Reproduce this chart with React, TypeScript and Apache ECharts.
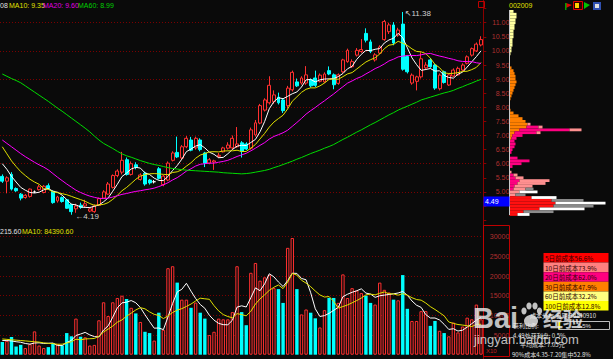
import React, { useEffect, useRef } from "react";
import * as echarts from "echarts";

// ---------- price data (O, C, H, L) ----------
const opens = [
  5.55, 5.38, 5.62, 5.12, 4.92, 4.8, 4.84, 5.0, 5.08, 4.98,
  5.22, 5.02, 4.68, 4.8, 4.72, 4.55, 4.4, 4.53, 4.5, 4.32,
  4.3, 4.52, 4.78, 4.92, 5.16, 5.58, 5.7, 6.14, 5.62, 5.96,
  5.44, 5.66, 5.42, 5.36, 5.82, 5.26, 5.42, 6.12, 6.4, 6.2,
  6.6, 6.84, 6.56, 6.84, 6.38, 6.02, 6.06, 6.26, 6.42, 6.55,
  6.56, 6.6, 6.74, 6.7, 6.55, 7.02, 7.44, 7.9, 8.16, 8.2,
  8.36, 8.26, 8.06, 8.62, 8.9, 8.86, 8.86, 8.98, 9.04, 8.92,
  8.9, 9.3, 9.15, 8.85, 9.26, 9.62, 9.44, 9.85, 9.98, 10.62,
  10.32, 9.68, 9.92, 10.4, 10.68, 10.92, 10.56, 10.95, 9.8, 8.86,
  8.92, 9.08, 9.4, 9.68, 9.5, 8.66, 9.26, 8.79, 9.11, 9.15,
  9.32, 9.56, 9.85, 10.0, 10.21,
];
const closes = [
  5.38, 5.5, 5.1, 5.04, 4.78, 4.88, 5.1, 5.0, 5.18, 5.2,
  5.12, 4.62, 4.82, 4.66, 4.42, 4.3, 4.5, 4.45, 4.58, 4.4,
  4.5, 4.76, 5.0, 5.28, 5.58, 5.74, 6.12, 5.62, 6.0, 5.88,
  5.6, 5.28, 5.32, 5.36, 5.48, 5.56, 6.02, 6.38, 6.24, 6.6,
  6.9, 6.48, 6.9, 6.5, 6.02, 6.14, 6.1, 6.3, 6.56, 6.66,
  6.9, 6.7, 6.44, 6.52, 7.2, 7.45, 8.06, 8.26, 8.78, 8.44,
  8.16, 7.88, 8.68, 9.24, 8.76, 9.04, 9.15, 8.76, 8.78, 9.14,
  9.18, 9.18, 8.8, 9.15, 9.68, 10.02, 9.62, 10.02, 10.05, 10.38,
  9.98, 9.86, 10.14, 11.04, 10.92, 10.28, 10.74, 9.35, 9.26, 9.14,
  9.08, 9.72, 9.5, 9.44, 8.68, 9.14, 8.88, 9.15, 9.32, 9.38,
  9.5, 9.79, 10.08, 10.24, 10.4,
];
const highs = [
  5.62, 5.55, 5.7, 5.16, 4.96, 4.92, 5.12, 5.05, 5.25, 5.24,
  5.3, 5.05, 4.86, 4.84, 4.75, 4.58, 4.58, 4.62, 4.72, 4.46,
  4.56, 4.8, 5.06, 5.35, 5.62, 5.8, 6.42, 6.22, 6.08, 6.05,
  5.66, 5.72, 5.46, 5.42, 5.88, 5.6, 6.08, 6.44, 6.96, 6.66,
  6.98, 6.95, 6.96, 6.9, 6.42, 6.2, 6.14, 6.38, 6.6, 6.76,
  7.0, 7.3, 6.8, 6.76, 7.28, 7.55, 8.12, 8.32, 9.1, 8.6,
  8.52, 8.3, 8.76, 9.3, 9.02, 9.1, 9.46, 9.02, 9.3, 9.2,
  9.24, 9.45, 9.2, 9.2, 9.72, 10.08, 9.7, 10.1, 10.42, 10.8,
  10.4, 9.92, 10.2, 11.1, 11.0, 11.02, 10.82, 11.38, 9.85, 9.2,
  9.12, 9.95, 9.6, 9.75, 9.55, 9.2, 9.3, 9.2, 9.38, 9.44,
  9.56, 9.84, 10.12, 10.3, 10.52,
];
const lows = [
  5.32, 4.95, 5.05, 5.0, 4.7, 4.76, 4.8, 4.96, 5.05, 4.95,
  5.08, 4.58, 4.62, 4.62, 4.4, 4.19, 4.26, 4.4, 4.45, 4.28,
  4.26, 4.5, 4.76, 4.9, 5.12, 5.52, 5.62, 5.58, 5.58, 5.8,
  5.4, 5.22, 5.26, 5.3, 5.44, 5.2, 5.38, 6.08, 6.2, 6.15,
  6.55, 6.44, 6.5, 6.44, 5.88, 5.98, 5.78, 6.2, 6.4, 6.5,
  6.5, 6.56, 6.22, 6.48, 6.5, 6.96, 7.4, 7.85, 8.1, 8.12,
  8.1, 7.8, 7.96, 8.56, 8.72, 8.8, 8.8, 8.7, 8.72, 8.88,
  8.86, 9.14, 8.64, 8.8, 9.22, 9.58, 9.4, 9.8, 9.93, 10.3,
  9.92, 9.62, 9.88, 10.36, 10.6, 10.2, 10.5, 9.3, 9.2, 8.8,
  8.6, 9.02, 9.32, 9.4, 8.62, 8.6, 8.84, 8.76, 9.08, 9.12,
  9.28, 9.52, 9.8, 9.96, 10.16,
];
const volumes = [
  3250, 3500, 4500, 2080, 2500, 1680, 2680, 5930, 2330, 1680,
  1930, 2930, 2750, 2330, 5500, 4680, 9180, 4580, 4430, 2330,
  2500, 8750, 13330, 9830, 13330, 14430, 15000, 14180, 11930, 10500,
  8330, 5830, 5500, 3580, 10680, 6330, 22000, 22500, 18330, 14000,
  14000, 11930, 13250, 10680, 9180, 5000, 5830, 9180, 9000, 9000,
  10830, 22500, 10830, 7500, 20830, 23330, 18830, 19680, 20250, 16930,
  16680, 13170, 27170, 29670, 16680, 10250, 11500, 10680, 9250, 6930,
  11330, 14430, 14430, 13180, 20420, 14420, 16920, 16330, 15670, 15000,
  13170, 12750, 18330, 16500, 15830, 14000, 13830, 20250, 11670, 8580,
  8580, 11080, 11080, 7330, 8580, 6080, 5500, 4670, 8170, 5670,
  7170, 9420, 9000, 12750, 9000,
];

const ma5Lead = [6.0, 5.8, 5.55, 5.35];
const ma10Lead = [6.6, 6.35, 6.1, 5.9, 5.72, 5.58, 5.45, 5.35, 5.27];
const ma20Lead = [6.84, 6.72, 6.6, 6.48, 6.36, 6.25, 6.15, 6.05, 5.96, 5.88, 5.78, 5.65, 5.52, 5.4, 5.28, 5.17, 5.06, 4.98, 4.91];
const ma60 = [
  9.18, 9.1, 9.02, 8.95, 8.87, 8.76, 8.65, 8.54, 8.43, 8.32,
  8.21, 8.09, 7.97, 7.86, 7.74, 7.62, 7.5, 7.38, 7.26, 7.13,
  6.98, 6.84, 6.72, 6.63, 6.54, 6.44, 6.35, 6.28, 6.23, 6.17,
  6.11, 6.06, 6.01, 5.97, 5.94, 5.9, 5.86, 5.83, 5.81, 5.79,
  5.77, 5.76, 5.75, 5.74, 5.73, 5.72, 5.71, 5.7, 5.68, 5.67,
  5.66, 5.65, 5.64, 5.65, 5.67, 5.7, 5.73, 5.76, 5.8, 5.86,
  5.91, 5.97, 6.03, 6.09, 6.16, 6.22, 6.29, 6.36, 6.42, 6.48,
  6.55, 6.61, 6.68, 6.77, 6.86, 6.94, 7.03, 7.12, 7.2, 7.29,
  7.38, 7.46, 7.55, 7.64, 7.73, 7.81, 7.9, 7.97, 8.04, 8.11,
  8.18, 8.26, 8.31, 8.36, 8.41, 8.46, 8.51, 8.55, 8.6, 8.67,
  8.73, 8.8, 8.86, 8.93, 8.99,
];
const volMa5Lead = [3600, 3600, 3500, 3300];
const volMa10Lead = [4000, 3900, 3800, 3700, 3600, 3500, 3400, 3300, 3200];

// ---------- chip distribution (levels 11.4 down to 4.2, step 0.1) ----------
const chipTop = 11.4;
const chipStep = 0.1;
const chipA = [
  4, 7, 7, 6, 6, 5, 5, 4, 4, 4, 3, 3, 3, 2, 2, 1, 0, 0, 0, 0,
  2, 4, 5, 6, 6, 7, 6, 5, 4, 3, 2, 1, 0, 0, 0, 1, 4, 9, 13, 16,
  18, 17, 10, 5, 3, 2, 5, 6, 5, 3, 2, 0, 8, 20, 12, 3, 0, 2, 4, 6,
  10, 8, 5, 4, 10, 6, 22, 42, 46, 44, 30, 14, 8,
];
const chipAColor = [
  "Y", "Y", "Y", "Y", "Y", "Y", "Y", "Y", "Y", "Y", "Y", "Y", "Y", "Y", "Y", "Y", "Y", "Y", "Y", "Y",
  "O", "O", "O", "O", "O", "O", "O", "O", "O", "O", "O", "O", "O", "O", "O", "O", "O", "O", "O", "O",
  "O", "O", "O", "O", "O", "O", "M", "M", "M", "M", "M", "M", "M", "M", "M", "M", "M", "P", "M", "M",
  "M", "M", "M", "M", "P", "P", "R", "R", "R", "R", "R", "R", "R",
];
const chipB = [
  0, 0, 0, 0, 0, 0, 0, 0, 0, 0, 0, 0, 0, 0, 0, 0, 0, 0, 0, 0,
  0, 0, 0, 0, 0, 0, 0, 0, 0, 0, 0, 0, 0, 0, 0, 0, 0, 0, 0, 0,
  3, 12, 50, 22, 10, 5, 0, 0, 0, 0, 0, 0, 0, 0, 0, 0, 0, 0, 4, 8,
  30, 28, 18, 12, 18, 10, 25, 32, 50, 40, 45, 30, 12,
];
const chipBColor = [
  "P", "P", "P", "P", "P", "P", "P", "P", "P", "P", "P", "P", "P", "P", "P", "P", "P", "P", "P", "P",
  "P", "P", "P", "P", "P", "P", "P", "P", "P", "P", "P", "P", "P", "P", "P", "P", "P", "P", "P", "P",
  "P", "M", "M", "M", "M", "M", "P", "P", "P", "P", "P", "P", "P", "P", "P", "P", "P", "P", "P", "P",
  "P", "P", "P", "P", "W", "W", "W", "W", "W", "W", "W", "W", "W",
];
const chipC = [
  0, 0, 0, 0, 0, 0, 0, 0, 0, 0, 0, 0, 0, 0, 0, 0, 0, 0, 0, 0,
  0, 0, 0, 0, 0, 0, 0, 0, 0, 0, 0, 0, 0, 0, 0, 0, 0, 0, 0, 0,
  0, 4, 12, 4, 0, 0, 0, 0, 0, 0, 0, 0, 0, 0, 0, 0, 0, 0, 0, 0,
  0, 0, 0, 8, 0, 0, 0, 0, 0, 0, 0, 0, 0,
];
const chipCColor = "P";

// ---------- texts ----------
const costRows = ["5日前成本56.6%", "10日前成本73.9%", "20日前成本62.0%", "30日前成本47.9%", "60日前成本32.2%", "100日前成本12.8%"];
const costRowColors = ["#ff0000", "#ff8080", "#ff0080", "#ff8000", "#ffff80", "#ffff00"];
const infoLines = ["成本分布,日期:20130910", "获利比例:", "4.49处获利盘: 0.5%", "平均成本: 7.05元", "90%成本4.35-7.20集中52.8%"];
const profitPct = "0.5%";

const palette: Record<string, string> = {
  Y: "#ffffa0",
  O: "#ff8000",
  M: "#ff0080",
  P: "#ff9090",
  R: "#ff1010",
};

function movingAverage(src: number[], n: number, lead: number[]) {
  return src.map((_, i) => {
    if (i < n - 1) return lead[i];
    let s = 0;
    for (let k = i - n + 1; k <= i; k++) s += src[k];
    return +(s / n).toFixed(3);
  });
}

const FONT = '"Liberation Sans", "DejaVu Sans", sans-serif';
const CJK = '"Noto Sans CJK SC", sans-serif';

export default function App() {
  const ref = useRef<HTMLDivElement>(null);
  useEffect(() => {
    document.body.style.margin = "0";
    document.body.style.background = "#0a0a0a";
    if (!ref.current) return;
    const chart = echarts.init(ref.current, undefined, { renderer: "svg" });
    const days = closes.map((_, i) => String(i + 1));
    const ma5 = movingAverage(closes, 5, ma5Lead);
    const ma10 = movingAverage(closes, 10, ma10Lead);
    const ma20 = movingAverage(closes, 20, ma20Lead);
    const vma5 = movingAverage(volumes, 5, volMa5Lead);
    const vma10 = movingAverage(volumes, 10, volMa10Lead);

    const up = (i: number) => closes[i] >= opens[i];
    const candleData = closes.map((c, i) => [opens[i], c, lows[i], highs[i]]);
    const volData = volumes.map((v, i) =>
      up(i)
        ? { value: v, itemStyle: { color: "#0a0a0a", borderColor: "#ff3030", borderWidth: 1 } }
        : { value: v, itemStyle: { color: "#00ffff" } }
    );
    let hiIdx = 0, loIdx = 0;
    highs.forEach((h, i) => { if (h > highs[hiIdx]) hiIdx = i; });
    lows.forEach((l, i) => { if (l < lows[loIdx]) loIdx = i; });

    const chipLevels = chipA.map((_, k) => (chipTop - k * chipStep).toFixed(1));
    const whiteFor = (k: number) => (k % 2 === 0 ? "#ffffff" : "#8a8a8a");
    const chipSeg = (w: number[], colorOf: (k: number) => string) =>
      w.map((v, k) => ({ value: v, itemStyle: { color: colorOf(k) } }));

    const dotted = { color: "#7a0000", type: [1, 2] as any, width: 1 };
    const lineSeries = (name: string, data: number[], color: string, x: number, y: number) => ({
      name, type: "line", data, xAxisIndex: x, yAxisIndex: y, symbol: "none", silent: true,
      lineStyle: { color, width: 1 }, z: 5,
    });

    const txt = (x: number, y: number, text: string, fill: string, font = `7px ${FONT}`, align = "left") => ({
      type: "text", x, y, silent: true, z: 50,
      style: { text, fill, font, align, verticalAlign: "middle" },
    });
    const WM = "rgba(235,235,235,0.82)";

    const graphics: any[] = [
      // header
      txt(0, 5, "08", "#e0e0e0"),
      txt(9, 5, "MA10: 9.35", "#e0e000"),
      txt(43, 5, "MA20: 9.60", "#e000e0"),
      txt(78, 5, "MA60: 8.99", "#00d000"),
      txt(0, 231, "215.60", "#e0e0e0"),
      txt(22, 231, "MA10: 84390.60", "#e0e000"),
      txt(509, 5, "002009", "#e0e000"),
      // top icons
      { type: "rect", shape: { x: 478.5, y: 1.5, width: 6, height: 6 }, style: { fill: "none", stroke: "#c00000", lineWidth: 1 }, z: 50 },
      { type: "polygon", shape: { points: [[566, 3], [572, 5], [566, 8]] }, style: { fill: "#e00000" }, z: 50 },
      { type: "rect", shape: { x: 565, y: 3, width: 1.5, height: 7 }, style: { fill: "#00a000" }, z: 50 },
      { type: "rect", shape: { x: 573.5, y: 1.5, width: 9, height: 8 }, style: { fill: "#300000", stroke: "#e00000", lineWidth: 1 }, z: 50 },
      { type: "rect", shape: { x: 575, y: 3, width: 4, height: 5 }, style: { fill: "#ffd000" }, z: 50 },
      { type: "polygon", shape: { points: [[584, 2], [590, 5], [584, 9]] }, style: { fill: "#00c000" }, z: 50 },
      { type: "rect", shape: { x: 593, y: 2, width: 8, height: 8 }, style: { fill: "#3050b0" }, z: 50 },
      { type: "rect", shape: { x: 595, y: 4, width: 4, height: 4 }, style: { fill: "#e0e0e0" }, z: 50 },
      // frame lines
      { type: "line", shape: { x1: 483.5, y1: 0, x2: 483.5, y2: 359 }, style: { stroke: "#8b0000", lineWidth: 1 }, z: 40 },
      { type: "rect", shape: { x: 483.5, y: 225.5, width: 26, height: 131 }, style: { fill: "none", stroke: "#c00000", lineWidth: 1 }, z: 40 },
      txt(486, 351, "X10", "#c02020", `6px ${FONT}`),
      { type: "line", shape: { x1: 509.5, y1: 10, x2: 509.5, y2: 215 }, style: { stroke: "#c8c8c8", lineWidth: 1 }, z: 40 },
      // blue price box
      { type: "rect", shape: { x: 483.5, y: 196.5, width: 26, height: 10 }, style: { fill: "#0000ff" }, z: 45 },
      txt(485, 201.5, "4.49", "#ffffff"),
    ];
    costRows.forEach((t, k) => {
      graphics.push({ type: "rect", shape: { x: 543.5, y: 253 + k * 9.6, width: 65, height: 9.6 }, style: { fill: costRowColors[k] }, z: 45 });
      graphics.push(txt(545, 258 + k * 9.6, t, "#300000", `6.5px ${CJK}`));
    });
    const info = `6px ${CJK}`;
    graphics.push(txt(530, 315.5, infoLines[0], "#e0e0e0", info));
    graphics.push(txt(513, 325.5, infoLines[1], "#e0e0e0", info));
    graphics.push({ type: "rect", shape: { x: 558.5, y: 321.5, width: 51, height: 8 }, style: { fill: "none", stroke: "#c0c0c0", lineWidth: 1 }, z: 45 });
    graphics.push({ type: "line", shape: { x1: 559.5, y1: 322, x2: 559.5, y2: 329 }, style: { stroke: "#ffff00", lineWidth: 1.5 }, z: 45 });
    graphics.push(txt(584, 325.5, profitPct, "#e0e0e0", `6px ${FONT}`, "center"));
    graphics.push(txt(513, 335, infoLines[2], "#e0e0e0", info));
    graphics.push(txt(520, 344.5, infoLines[3], "#e0e0e0", info));
    graphics.push(txt(512, 354, infoLines[4], "#e0e0e0", info));
    // watermark
    graphics.push({ type: "text", x: 473, y: 318, silent: true, z: 60, style: { text: "Bai", fill: WM, font: `bold 29px ${FONT}`, verticalAlign: "middle" } });
    graphics.push({ type: "ellipse", shape: { cx: 531, cy: 321, rx: 7, ry: 6 }, style: { fill: WM }, silent: true, z: 60 });
    graphics.push({ type: "ellipse", shape: { cx: 524, cy: 311, rx: 2.6, ry: 3.4 }, style: { fill: WM }, silent: true, z: 60 });
    graphics.push({ type: "ellipse", shape: { cx: 529, cy: 306, rx: 2.6, ry: 3.4 }, style: { fill: WM }, silent: true, z: 60 });
    graphics.push({ type: "ellipse", shape: { cx: 535, cy: 306, rx: 2.6, ry: 3.4 }, style: { fill: WM }, silent: true, z: 60 });
    graphics.push({ type: "ellipse", shape: { cx: 539.5, cy: 311, rx: 2.6, ry: 3.4 }, style: { fill: WM }, silent: true, z: 60 });
    graphics.push({ type: "text", x: 543, y: 318, silent: true, z: 60, style: { text: "经验", fill: WM, font: `bold 20px ${CJK}`, verticalAlign: "middle" } });
    graphics.push({ type: "text", x: 474, y: 339, silent: true, z: 60, style: { text: "jingyan.baidu.com", fill: WM, font: `13px ${FONT}`, verticalAlign: "middle" } });

    chart.setOption({
      animation: false,
      backgroundColor: "#0a0a0a",
      grid: [
        { left: -0.6, top: 8.6, width: 483.9, height: 211.5 },
        { left: -0.6, top: 226.9, width: 483.9, height: 127.8 },
        { left: 509.5, top: 10.01, width: 103.5, height: 205.86 },
      ],
      xAxis: [
        { type: "category", gridIndex: 0, data: days, boundaryGap: true, show: false },
        { type: "category", gridIndex: 1, data: days, boundaryGap: true, show: false },
        { type: "value", gridIndex: 2, min: 0, max: 103.5, show: false },
      ],
      yAxis: [
        {
          type: "value", gridIndex: 0, position: "right", min: 4, max: 11.5, interval: 0.5,
          axisLine: { show: true, lineStyle: { color: "#8b0000" } },
          axisTick: { show: true, length: 3, lineStyle: { color: "#8b0000" } },
          axisLabel: {
            color: "#b03030", fontSize: 7, fontFamily: FONT, align: "right", margin: 26,
            formatter: (v: number) => (v >= 4.99 && v <= 11.01 ? v.toFixed(2) : ""),
          },
          splitLine: { show: false },
        },
        {
          type: "value", gridIndex: 0, min: 4, max: 11.5, interval: 1,
          axisLine: { show: false }, axisTick: { show: false }, axisLabel: { show: false },
          splitLine: { show: true, showMinLine: false, showMaxLine: false, lineStyle: dotted },
        },
        {
          type: "value", gridIndex: 1, position: "right", min: 0, max: 32500, interval: 5000,
          axisLine: { show: false },
          axisTick: { show: false },
          axisLabel: {
            color: "#b03030", fontSize: 7, fontFamily: FONT, align: "right", margin: 26,
            formatter: (v: number) => (v > 0 && v <= 30000 ? String(v) : ""),
          },
          splitLine: { show: true, showMinLine: false, showMaxLine: false, lineStyle: dotted },
        },
        { type: "category", gridIndex: 2, data: chipLevels, inverse: true, show: false },
      ],
      series: [
        {
          type: "candlestick", xAxisIndex: 0, yAxisIndex: 0, data: candleData, barWidth: 3.4, silent: true,
          itemStyle: {
            color: "#0a0a0a", color0: "#00ffff", borderColor: "#ff3030", borderColor0: "#00ffff",
            borderColorDoji: "#ffffff", borderWidth: 1,
          },
          markPoint: {
            symbol: "circle", symbolSize: 0, silent: true,
            label: { show: true, color: "#d0d0d0", fontSize: 8, fontFamily: FONT, position: "right" },
            data: [
              { coord: [loIdx, lows[loIdx]], value: lows[loIdx], label: { formatter: "←" + lows[loIdx].toFixed(2), offset: [-1, 2] } },
              { coord: [hiIdx, highs[hiIdx]], value: highs[hiIdx], label: { formatter: "↖" + highs[hiIdx].toFixed(2), offset: [-3, 2] } },
            ],
          },
          z: 3,
        },
        lineSeries("MA5", ma5, "#ffffff", 0, 0),
        lineSeries("MA10", ma10, "#e0e000", 0, 0),
        lineSeries("MA20", ma20, "#ff00ff", 0, 0),
        lineSeries("MA60", ma60, "#00dd00", 0, 0),
        { type: "bar", xAxisIndex: 1, yAxisIndex: 2, data: volData, barWidth: 3.4, silent: true, z: 3 },
        lineSeries("VMA5", vma5, "#ffffff", 1, 2),
        lineSeries("VMA10", vma10, "#e0e000", 1, 2),
        {
          type: "bar", xAxisIndex: 2, yAxisIndex: 3, stack: "chip", barWidth: "100%", silent: true,
          data: chipSeg(chipA, (k) => palette[chipAColor[k]]),
        },
        {
          type: "bar", xAxisIndex: 2, yAxisIndex: 3, stack: "chip", barWidth: "100%", silent: true,
          data: chipSeg(chipB, (k) => (chipBColor[k] === "W" ? whiteFor(k) : palette[chipBColor[k]])),
        },
        {
          type: "bar", xAxisIndex: 2, yAxisIndex: 3, stack: "chip", barWidth: "100%", silent: true,
          data: chipSeg(chipC, (k) => (k > 60 ? whiteFor(k) : palette[chipCColor])),
        },
      ],
      graphic: graphics,
    });
    return () => chart.dispose();
  }, []);
  return <div ref={ref} style={{ width: 613, height: 359 }} />;
}
